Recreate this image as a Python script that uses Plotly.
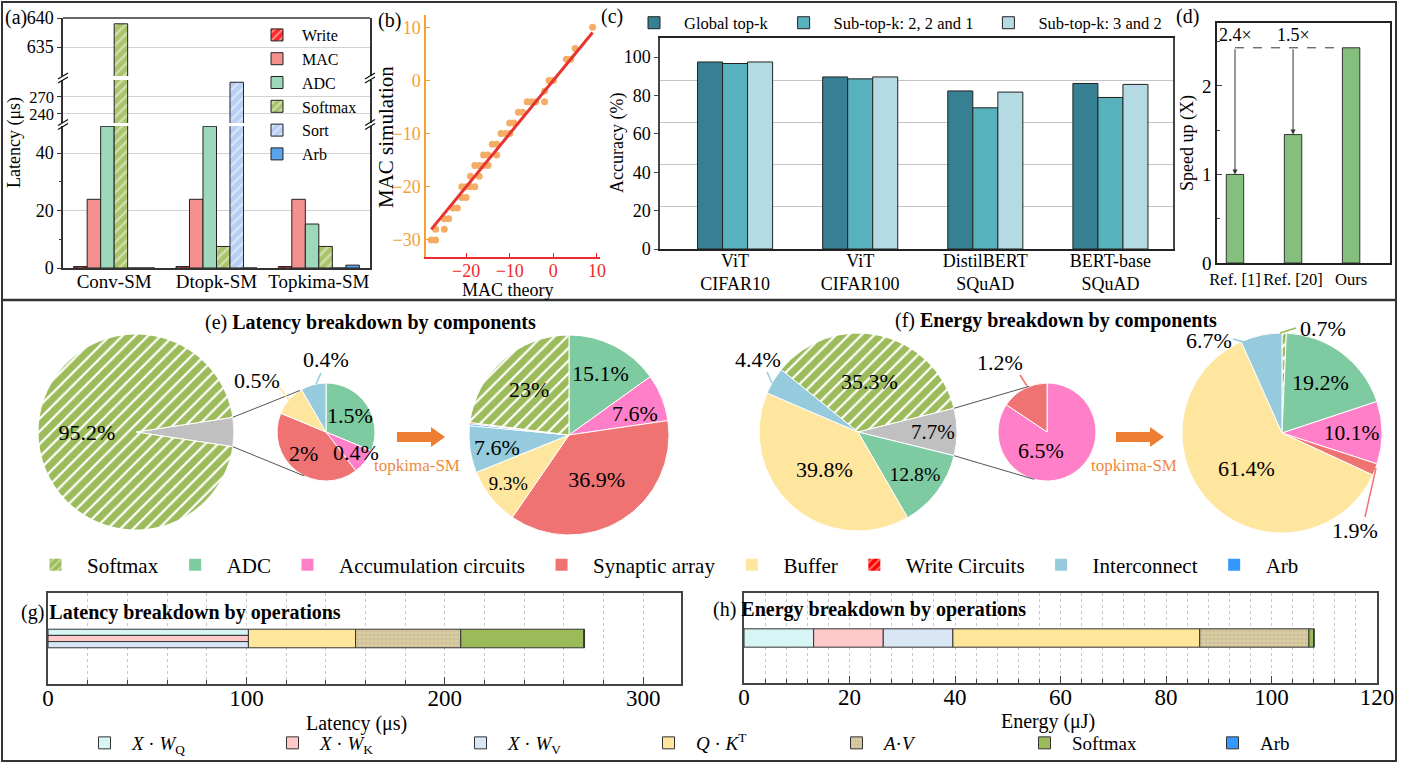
import plotly.graph_objects as go
import numpy as np

W, H = 1413, 763
FONT = "Liberation Serif"


def fx(x):
    return x / W


def fy(y):
    return 1 - y / H


# ------------------------------------------------------------------ data
# (a) latency of softmax variants (µs)
a_categories = ["Conv-SM", "Dtopk-SM", "Topkima-SM"]
a_series = ["Write", "MAC", "ADC", "Softmax", "Sort", "Arb"]
a_write = [0.5, 0.5, 0.5]
a_mac = [23.9, 23.9, 23.9]
a_adc = [49.3, 49.3, 15.3]
a_softmax = [639.0, 7.5, 7.5]
a_sort = [0, 296.0, 0]
a_arb = [0, 0, 1.0]

# (b) MAC theory vs simulation
b_theory = [9, 5, 3, 4, -1, 0, -2, -2, -6, -5, -4, -8, -7, -10, -9, -12, -11, -10,
            -14, -13, -16, -15, -13, -18, -17, -16, -15, -19, -17, -21, -20, -19, -18,
            -21, -20, -23, -22, -25, -24, -27, -25, -28, -27]
b_sim = [10, 6, 4, 4, 0, 0, -2, -4, -4, -4, -4, -6, -6, -8, -8, -10, -10, -10,
         -12, -12, -14, -14, -14, -16, -16, -16, -16, -18, -18, -20, -20, -20, -20,
         -22, -22, -24, -24, -26, -26, -28, -28, -30, -30]
b_fit_x = [-28, 9]
b_fit_y = [-28, 9]

# (c) accuracy (%)
c_categories = ["ViT<br>CIFAR10", "ViT<br>CIFAR100", "DistilBERT<br>SQuAD", "BERT-base<br>SQuAD"]
c_series = ["Global top-k", "Sub-top-k: 2, 2 and 1", "Sub-top-k: 3 and 2"]
c_global = [97.5, 89.7, 82.4, 86.3]
c_sub221 = [96.7, 88.7, 73.6, 79.0]
c_sub32 = [97.5, 89.7, 81.8, 85.8]

# (d) speed up
d_categories = ["Ref. [1]", "Ref. [20]", "Ours"]
d_speedup = [1.0, 1.45, 2.43]
d_gain_labels = ["2.4×", "1.5×"]

# (e) latency breakdown by components (%)
e1_labels = ["Others", "Softmax"]
e1_vals = [4.8, 95.2]
e2_labels = ["ADC", "Accumulation circuits", "Synaptic array", "Buffer", "Interconnect"]
e2_vals = [1.5, 0.4, 2.0, 0.5, 0.4]
e3_labels = ["ADC", "Accumulation circuits", "Synaptic array", "Buffer", "Interconnect",
             "Arb", "Write Circuits", "Softmax"]
e3_vals = [15.1, 7.6, 36.9, 9.3, 7.6, 0.3, 0.2, 23.0]

# (f) energy breakdown by components (%)
f1_labels = ["Softmax", "Others", "ADC", "Buffer", "Interconnect"]
f1_vals = [35.3, 7.7, 12.8, 39.8, 4.4]
f2_labels = ["Accumulation circuits", "Synaptic array"]
f2_vals = [6.5, 1.2]
f3_labels = ["Softmax", "ADC", "Accumulation circuits", "Synaptic array", "Buffer", "Interconnect"]
f3_vals = [0.7, 19.2, 10.1, 1.9, 61.4, 6.7]

comp_legend = ["Softmax", "ADC", "Accumulation circuits", "Synaptic array", "Buffer",
               "Write Circuits", "Interconnect", "Arb"]

# (g)/(h) breakdown by operations
ops_names = ["<i>X</i> · <i>W</i><sub>Q</sub>", "<i>X</i> · <i>W</i><sub>K</sub>",
             "<i>X</i> · <i>W</i><sub>V</sub>", "<i>Q</i> · <i>K</i><sup>T</sup>",
             "<i>A</i>·<i>V</i>", "Softmax", "Arb"]
g_latency = [101, 101, 101, 54, 53, 62, 0.4]
g_parallel = [True, True, True, False, False, False, False]
h_energy = [13.2, 13.2, 13.2, 46.8, 20.7, 0.9, 0.1]

# ------------------------------------------------------------------ styles
COMP_COLORS = {
    "Softmax": "#9cbb5a", "ADC": "#7ecba1", "Accumulation circuits": "#ff80c8",
    "Synaptic array": "#f07373", "Buffer": "#fee69e", "Write Circuits": "#ff0000",
    "Interconnect": "#95cbdc", "Arb": "#3399ff", "Others": "#c0c0c0",
}
COMP_HATCH = {"Softmax": "/", "Write Circuits": "/"}
OPS_COLORS = ["#d6f5f4", "#ffc9c9", "#d9e6f4", "#ffe69a", "#dccfa6", "#9bbb59", "#3399ff"]
OPS_PATTERN = ["", "", "", "", "+", "", ""]

fig = go.Figure()

# ------------------------------------------------------------------ (a)
a_values = [a_write, a_mac, a_adc, a_softmax, a_sort, a_arb]
a_colors = ["#ff2a2a", "#f4918f", "#9ed8ba", "#a9c46b", "#b7cff3", "#5ba3ea"]
a_hatch = ["/", "", "", "/", "/", ""]
a_x = list(range(len(a_categories)))
a_bw = 0.132
for seg, yax in enumerate(["y", "y2", "y3"]):
    for k, (name, vals, col, hat) in enumerate(zip(a_series, a_values, a_colors, a_hatch)):
        fig.add_trace(go.Bar(
            x=a_x, y=vals, xaxis="x", yaxis=yax, name=name,
            offset=-3 * a_bw + k * a_bw, width=a_bw,
            marker=dict(color=col, line=dict(color="#222", width=1),
                        pattern=dict(shape=hat, fgcolor="white", bgcolor=col, size=7, solidity=0.3)),
            showlegend=(seg == 0), legend="legend", legendgroup=name, hoverinfo="skip"))

# ------------------------------------------------------------------ (b)
fig.add_trace(go.Scatter(x=b_theory, y=b_sim, mode="markers", xaxis="x2", yaxis="y4",
                         marker=dict(color="#f5ad66", size=7), showlegend=False))
fig.add_trace(go.Scatter(x=b_fit_x, y=b_fit_y, mode="lines", xaxis="x2", yaxis="y4",
                         line=dict(color="#e8342f", width=3), showlegend=False))

# ------------------------------------------------------------------ (c)
c_values = [c_global, c_sub221, c_sub32]
c_colors = ["#377f93", "#58b2be", "#b4dae4"]
c_bw = 0.2
for k, (name, vals, col) in enumerate(zip(c_series, c_values, c_colors)):
    fig.add_trace(go.Bar(
        x=list(range(len(c_categories))), y=vals, xaxis="x3", yaxis="y5", name=name,
        offset=-1.5 * c_bw + k * c_bw, width=c_bw,
        marker=dict(color=col, line=dict(color="#222", width=1)),
        legend="legend2", hoverinfo="skip"))

# ------------------------------------------------------------------ (d)
d_bw = 0.3
fig.add_trace(go.Bar(x=list(range(len(d_categories))), y=d_speedup, xaxis="x4", yaxis="y6",
                     offset=-d_bw / 2, width=d_bw,
                     marker=dict(color="#84bf7d", line=dict(color="#333", width=1)),
                     showlegend=False, hoverinfo="skip"))

# ------------------------------------------------------------------ pies
PIES = [
    (e1_labels, e1_vals, 136, 432, 98),
    (e2_labels, e2_vals, 326, 432, 49),
    (e3_labels, e3_vals, 569, 435, 100),
    (f1_labels, f1_vals, 858, 432, 99),
    (f2_labels, f2_vals, 1047, 432, 49),
    (f3_labels, f3_vals, 1282, 433, 100),
]
# which slices get their label drawn inside by the pie itself (others are annotated)
pie_inside = [
    [False, True],
    [False] * 5,
    [True, False, True, True, False, False, False, True],
    [True, True, True, True, False],
    [False, False],
    [False, True, True, False, True, False],
]


def centred_rotation(vals, idx):
    tot = sum(vals)
    before = sum(vals[:idx])
    return 90 - (before + vals[idx] / 2) / tot * 360


rotations = [centred_rotation(e1_vals, 0), 0, 0, centred_rotation(f1_vals, 1), 0, 0]

for (labels, vals, cx, cy, r), inside, rot in zip(PIES, pie_inside, rotations):
    cols = [COMP_COLORS[l] for l in labels]
    txt = [f"{v:g}%" if show else "" for v, show in zip(vals, inside)]
    fig.add_trace(go.Pie(
        labels=labels, values=vals, text=txt, textinfo="text", textposition="inside",
        insidetextorientation="horizontal", sort=False, direction="clockwise", rotation=rot,
        domain=dict(x=[fx(cx - r), fx(cx + r)], y=[fy(cy + r), fy(cy - r)]),
        marker=dict(colors=cols, line=dict(color="white", width=1),
                    pattern=dict(shape=[COMP_HATCH.get(l, "") for l in labels],
                                 fgcolor="white", bgcolor=cols, size=9, solidity=0.25)),
        insidetextfont=dict(size=22, color="black", family=FONT),
        showlegend=False, hoverinfo="skip"))

# legend-only entries for component colours
for name in comp_legend:
    col = COMP_COLORS[name]
    fig.add_trace(go.Bar(x=[None], y=[None], xaxis="x7", yaxis="y9", name=name,
                         marker=dict(color=col, line=dict(width=0),
                                     pattern=dict(shape=COMP_HATCH.get(name, ""), fgcolor="white",
                                                  bgcolor=col, size=7, solidity=0.3)),
                         legend="legend3", showlegend=True))

# ------------------------------------------------------------------ (g)
g_base = []
t = max(v for v, p in zip(g_latency, g_parallel) if p)
for v, p in zip(g_latency, g_parallel):
    if p:
        g_base.append(0)
    else:
        g_base.append(t)
        t += v
n_par = sum(g_parallel)
lane = 0
for k, (name, v, b, p) in enumerate(zip(ops_names, g_latency, g_base, g_parallel)):
    if p:
        width = 1 / n_par
        offset = 0.5 - (lane + 1) * width
        lane += 1
    else:
        width, offset = 1, -0.5
    fig.add_trace(go.Bar(
        orientation="h", x=[v], y=[0], base=[b], offset=offset, width=width,
        xaxis="x5", yaxis="y7", name=name,
        marker=dict(color=OPS_COLORS[k], line=dict(color="#333", width=1),
                    pattern=dict(shape=OPS_PATTERN[k], fgcolor="#b3a273", bgcolor=OPS_COLORS[k],
                                 size=4, solidity=0.35)),
        legend="legend4", hoverinfo="skip"))

# ------------------------------------------------------------------ (h)
h_base = list(np.concatenate([[0], np.cumsum(h_energy)[:-1]]))
for k, (name, v, b) in enumerate(zip(ops_names, h_energy, h_base)):
    fig.add_trace(go.Bar(
        orientation="h", x=[v], y=[0], base=[b], offset=-0.5, width=1,
        xaxis="x6", yaxis="y8", name=name,
        marker=dict(color=OPS_COLORS[k], line=dict(color="#333", width=1),
                    pattern=dict(shape=OPS_PATTERN[k], fgcolor="#b3a273", bgcolor=OPS_COLORS[k],
                                 size=4, solidity=0.35)),
        showlegend=False, hoverinfo="skip"))

# ------------------------------------------------------------------ axes
LINE = "#333"
GRID = "#d2d2d2"
common_y = dict(showline=True, linecolor=LINE, linewidth=1.5, mirror=True, zeroline=False,
                ticks="outside", ticklen=4, tickcolor=LINE,
                showgrid=True, gridcolor=GRID, automargin=False)
layout = dict(
    width=W, height=H, margin=dict(l=0, r=0, t=0, b=0, pad=0, autoexpand=False),
    paper_bgcolor="white", plot_bgcolor="rgba(0,0,0,0)",
    font=dict(family=FONT, color="black", size=18),
    barmode="overlay",
    # (a)
    xaxis=dict(domain=[fx(63), fx(370)], anchor="y", range=[-0.5, 2.5],
               tickvals=a_x, ticktext=a_categories, showline=True, linecolor=LINE, linewidth=1.5,
               ticks="", showgrid=False, zeroline=False, tickfont=dict(size=19), tickangle=0,
               ticklabelstandoff=-5, automargin=False),
    yaxis=dict(domain=[fy(268), fy(126)], anchor="x", range=[0, 49.4], tickvals=[0, 20, 40],
               tickfont=dict(size=18),
               minor=dict(dtick=10, ticks="outside", ticklen=2), **common_y),
    yaxis2=dict(domain=[fy(123), fy(80)], anchor="x", range=[224, 300], tickvals=[240, 270],
                tickfont=dict(size=16.5), **common_y),
    yaxis3=dict(domain=[fy(76), fy(18)], anchor="x", range=[630, 640], tickvals=[635, 640],
                tickfont=dict(size=18), **common_y),
    # (b)
    xaxis2=dict(domain=[fx(426), fx(600)], anchor="y4", range=[-29.2, 10.7],
                tickvals=[-20, -10, 0, 10], showline=True, linecolor="#ee2a2a", linewidth=1.5,
                ticks="inside", ticklen=4, tickcolor="#ee2a2a", tickangle=0,
                ticklabelstandoff=-3,
                tickfont=dict(size=18, color="#ee2a2a"), showgrid=False, zeroline=False,
                automargin=False),
    yaxis4=dict(domain=[fy(257), fy(15)], anchor="x2", range=[-33.2, 12.3],
                tickvals=[-30, -20, -10, 0, 10], showline=True, linecolor="#f5a033", linewidth=1.5,
                ticks="inside", ticklen=4, tickcolor="#f5a033",
                tickfont=dict(size=18, color="#f5a033"), showgrid=False, zeroline=False,
                automargin=False),
    # (c)
    xaxis3=dict(domain=[fx(660), fx(1173)], anchor="y5", range=[-0.6, 3.5],
                tickvals=list(range(len(c_categories))), ticktext=c_categories,
                showline=True, linecolor="#222", linewidth=2, mirror=True, ticks="",
                showgrid=False, zeroline=False, tickfont=dict(size=18), tickangle=0,
                ticklabelstandoff=-6, automargin=False),
    yaxis5=dict(domain=[fy(249), fy(38)], anchor="x3", range=[0, 110],
                tickvals=[0, 20, 40, 60, 80, 100], showline=True, linecolor="#444", linewidth=1.5,
                mirror=True, ticks="outside", ticklen=4, tickfont=dict(size=18), showgrid=False,
                zeroline=False, automargin=False,
                minor=dict(tickmode="array", tickvals=[22, 44, 66, 88], showgrid=True,
                           gridcolor="#c4c4c4", gridwidth=1.2, ticklen=0)),
    # (d)
    xaxis4=dict(domain=[fx(1217), fx(1390)], anchor="y6", range=[-0.31, 2.67],
                tickvals=list(range(len(d_categories))), ticktext=d_categories,
                showline=True, linecolor="#222", linewidth=1.5, mirror=True, ticks="",
                showgrid=False, zeroline=False, tickfont=dict(size=16.5), tickangle=0,
                automargin=False),
    yaxis6=dict(domain=[fy(263), fy(23)], anchor="x4", range=[0, 2.71], tickvals=[0, 1, 2],
                showline=True, linecolor="#222", linewidth=1.5, mirror=True, ticks="inside",
                ticklen=5, tickfont=dict(size=19), showgrid=False, zeroline=False,
                automargin=False, minor=dict(dtick=0.5, ticks="inside", ticklen=3)),
    # (g)
    xaxis5=dict(domain=[fx(48), fx(681)], anchor="y7", range=[0, 319],
                tickvals=[0, 100, 200, 300], showline=True, linecolor="#444", linewidth=1.5,
                mirror=True, ticks="inside", ticklen=7, tickfont=dict(size=23), tickangle=0,
                ticklabelstandoff=-7,
                showgrid=True, gridcolor="#c8c8c8", griddash="dot", zeroline=False,
                automargin=False,
                minor=dict(dtick=20, ticks="inside", ticklen=4, showgrid=True,
                           gridcolor="#c8c8c8", griddash="dot")),
    yaxis7=dict(domain=[fy(684), fy(593)], anchor="x5", range=[-2.45, 2.45],
                showticklabels=False, ticks="", showline=True, linecolor="#444", linewidth=1.5,
                mirror=True, showgrid=False, zeroline=False, automargin=False),
    # (h)
    xaxis6=dict(domain=[fx(744), fx(1377)], anchor="y8", range=[0, 120], dtick=20,
                showline=True, linecolor="#444", linewidth=1.5, mirror=True, ticks="inside",
                ticklen=7, tickfont=dict(size=23), tickangle=0, ticklabelstandoff=-7,
                showgrid=True,
                gridcolor="#c8c8c8", griddash="dot", zeroline=False, automargin=False,
                minor=dict(dtick=4, ticks="inside", ticklen=4, showgrid=True,
                           gridcolor="#c8c8c8", griddash="dot")),
    yaxis8=dict(domain=[fy(683), fy(593)], anchor="x6", range=[-2.45, 2.45],
                showticklabels=False, ticks="", showline=True, linecolor="#444", linewidth=1.5,
                mirror=True, showgrid=False, zeroline=False, automargin=False),
    # hidden axes for legend-only entries
    xaxis7=dict(domain=[0, 0.001], anchor="y9", visible=False),
    yaxis9=dict(domain=[0, 0.001], anchor="x7", visible=False),
    # legends
    legend=dict(x=fx(252), y=fy(18), xanchor="left", yanchor="top", font=dict(size=16),
                bgcolor="rgba(0,0,0,0)", itemwidth=40, tracegroupgap=0),
    legend2=dict(orientation="h", x=fx(624), y=fy(23), xanchor="left", yanchor="middle",
                 font=dict(size=16.5), bgcolor="rgba(0,0,0,0)", itemwidth=50),
    legend3=dict(orientation="h", x=fx(24), y=fy(565), xanchor="left", yanchor="middle",
                 font=dict(size=21), bgcolor="rgba(0,0,0,0)", itemwidth=53),
    legend4=dict(orientation="h", x=fx(77), y=fy(743), xanchor="left", yanchor="middle",
                 font=dict(size=19), bgcolor="rgba(0,0,0,0)", itemwidth=45,
                 entrywidth=128, entrywidthmode="pixels"),
)
fig.update_layout(**layout)

# ------------------------------------------------------------------ annotations
ann = []


def text(x, y, s, size=18, anchor="center", angle=0, color="black"):
    ann.append(dict(x=fx(x), y=fy(y), xref="paper", yref="paper", text=s, showarrow=False,
                    xanchor=anchor, yanchor="middle", textangle=angle,
                    font=dict(size=size, color=color, family=FONT)))


text(3, 18, "(a)", 20, "left")
text(15, 143, "Latency (μs)", 18, angle=-90)
text(376, 20, "(b)", 20, "left")
text(386, 137, "MAC simulation", 21, angle=-90)
text(508, 290, "MAC theory", 18)
text(599, 17, "(c)", 20, "left")
text(618, 143, "Accuracy (%)", 18, angle=-90)
text(1174, 17, "(d)", 20, "left")
text(1188, 143, "Speed up (X)", 18, angle=-90)
text(203, 323, "(e) <b>Latency breakdown by components</b>", 20, "left")
text(893, 320, "(f) <b>Energy breakdown by components</b>", 20, "left")
text(19, 612, "(g) <b>Latency breakdown by operations</b>", 20, "left")
text(711, 609, "(h) <b>Energy breakdown by operations</b>", 20, "left")
text(356, 723, "Latency (μs)", 20)
text(1048, 721, "Energy (μJ)", 20)
text(417, 465, "topkima-SM", 17, color="#f08a3c")
text(1134, 465, "topkima-SM", 17, color="#f08a3c")

# labels of slices annotated by hand (small or narrow slices)
e2_label_pos = [(350, 415), (356, 452), (303, 453), (257, 380), (326, 360)]
for v, (x, y) in zip(e2_vals, e2_label_pos):
    text(x, y, f"{v:g}%", 22)
f2_label_pos = [(1041, 450), (1000, 362)]
for v, (x, y) in zip(f2_vals, f2_label_pos):
    text(x, y, f"{v:g}%", 22)
text(635, 413, f"{e3_vals[1]:g}%", 22)
text(497, 447, f"{e3_vals[4]:g}%", 22)
text(758, 360, f"{f1_vals[4]:g}%", 22)
text(1323, 328, f"{f3_vals[0]:g}%", 22)
text(1355, 530, f"{f3_vals[3]:g}%", 22)
text(1209, 340, f"{f3_vals[5]:g}%", 22)

# (d) gain arrows
for i, lab in enumerate(d_gain_labels):
    ann.append(dict(x=i, y=d_speedup[i], ax=i, ay=d_speedup[-1], xref="x4", yref="y6",
                    axref="x4", ayref="y6", showarrow=True, arrowhead=2, arrowsize=1,
                    arrowwidth=1, arrowcolor="#333", standoff=0, startstandoff=0, text=""))
    ann.append(dict(x=i, y=d_speedup[-1] + 0.14, xref="x4", yref="y6", text=lab,
                    showarrow=False, font=dict(size=18, family=FONT)))

fig.update_layout(annotations=ann)

# ------------------------------------------------------------------ shapes
shapes = []


def pline(x0, y0, x1, y1, color="#333", width=1, dash="solid"):
    shapes.append(dict(type="line", xref="paper", yref="paper", x0=fx(x0), y0=fy(y0),
                       x1=fx(x1), y1=fy(y1), line=dict(color=color, width=width, dash=dash)))


# outer frame and separator
shapes.append(dict(type="rect", xref="paper", yref="paper", x0=fx(2), y0=fy(761), x1=fx(1396),
                   y1=fy(2), line=dict(color="#333", width=2)))
pline(2, 300, 1396, 300, "#333", 2.5)

# (a) top frame and axis-break marks
pline(63, 18, 370, 18, LINE, 1.5)
for xb in (63, 370):
    for yb in (124.5, 78):
        for d in (-2, 2):
            pline(xb - 5, yb + d + 3, xb + 5, yb + d - 3, "#111", 1.2)

# (d) dashed reference line
shapes.append(dict(type="line", xref="x4", yref="y6", x0=0, x1=len(d_speedup) - 1 - d_bw / 2,
                   y0=d_speedup[-1], y1=d_speedup[-1], line=dict(color="#333", width=1, dash="dash")))


def wedge_edges(vals, idx, rot, cx, cy, r):
    tot = sum(vals)
    a0 = rot + sum(vals[:idx]) / tot * 360
    a1 = a0 + vals[idx] / tot * 360
    pts = []
    for a in (a0, a1):
        t_ = np.radians(a)
        pts.append((cx + r * np.sin(t_), cy - r * np.cos(t_)))
    return pts


def rim(cx, cy, r, ang):
    t_ = np.radians(ang)
    return cx + r * np.sin(t_), cy - r * np.cos(t_)


(p0, p1) = wedge_edges(e1_vals, 0, rotations[0], 136, 432, 98)
q0, q1 = rim(326, 432, 49, 328), rim(326, 432, 49, 206)
pline(p0[0], p0[1], q0[0], q0[1], "#555", 1)
pline(p1[0], p1[1], q1[0], q1[1], "#555", 1)
(p0, p1) = wedge_edges(f1_vals, 1, rotations[3], 858, 432, 99)
q0, q1 = rim(1047, 432, 49, 339), rim(1047, 432, 49, 195)
pline(p0[0], p0[1], q0[0], q0[1], "#555", 1)
pline(p1[0], p1[1], q1[0], q1[1], "#555", 1)

# leader lines for outside labels
pline(279, 387, 289, 400, COMP_COLORS["Buffer"], 1.5)
pline(321, 373, 316, 384, COMP_COLORS["Interconnect"], 1.5)
pline(767, 372, 772, 383, COMP_COLORS["Interconnect"], 1.5)
pline(1020, 375, 1027, 386, COMP_COLORS["Synaptic array"], 1.5)
pline(1280, 333, 1296, 328, COMP_COLORS["Softmax"], 1.5)
pline(1233, 339, 1244, 342, COMP_COLORS["Interconnect"], 1.5)
pline(1376, 468, 1365, 517, COMP_COLORS["Synaptic array"], 1.5)


def block_arrow(x0, x1, yc, color="#ed7d31"):
    hx = x1 - 14
    pts = [(x0, yc - 5), (hx, yc - 5), (hx, yc - 10), (x1, yc), (hx, yc + 10), (hx, yc + 5),
           (x0, yc + 5)]
    path = "M " + " L ".join(f"{fx(x):.5f},{fy(y):.5f}" for x, y in pts) + " Z"
    shapes.append(dict(type="path", xref="paper", yref="paper", path=path,
                       fillcolor=color, line=dict(width=0)))


block_arrow(397, 445, 437)
block_arrow(1116, 1164, 437)

fig.update_layout(shapes=shapes)

# the page's default 8px body margin would shift the figure; remove it
fig.write_html("out.html", config={"displayModeBar": False},
               post_script="document.body.style.margin='0px';")
